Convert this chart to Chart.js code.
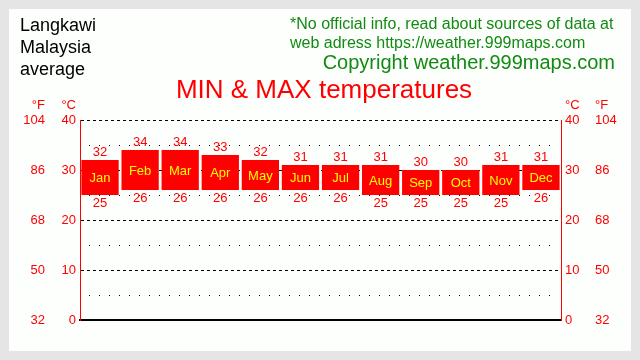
<!DOCTYPE html>
<html>
<head>
<meta charset="utf-8">
<script src="https://cdn.jsdelivr.net/npm/chart.js@4/dist/chart.umd.min.js"></script>
<style>
html,body{margin:0;padding:0;background:#e5e5e5;}
#wrap{width:640px;height:360px;position:relative;}
</style>
</head>
<body>
<div id="wrap"><canvas id="c" width="640" height="360"></canvas></div>
<script>
const categories = ['Jan','Feb','Mar','Apr','May','Jun','Jul','Aug','Sep','Oct','Nov','Dec'];
const minC = [25,26,26,26,26,26,26,25,25,25,25,26];
const maxC = [32,34,34,33,32,31,31,31,30,30,31,31];
const cTicks = [0,10,20,30,40];
const fTicks = [32,50,68,86,104];
const minorC = [5,15,25,35];
const titleText = 'MIN & MAX temperatures';
const placeLines = ['Langkawi','Malaysia','average'];
const noteLines = ['*No official info, read about sources of data at','web adress https://weather.999maps.com'];
const copyrightText = 'Copyright weather.999maps.com';

const FONT = '"Liberation Sans", Arial, sans-serif';
const RED = '#ff0000';
const GREEN = '#138a13';

const bgPlugin = {
  id: 'bg',
  beforeDraw(chart) {
    const ctx = chart.ctx;
    ctx.save();
    ctx.fillStyle = '#e5e5e5';
    ctx.fillRect(0, 0, chart.width, chart.height);
    ctx.fillStyle = '#fdfffd';
    ctx.fillRect(9, 9, 622, 342);
    ctx.textBaseline = 'alphabetic';
    ctx.fillStyle = '#000';
    ctx.font = '18px ' + FONT;
    ctx.textAlign = 'left';
    placeLines.forEach((t, i) => ctx.fillText(t, 20, 31 + i * 22));
    ctx.fillStyle = GREEN;
    ctx.font = '16px ' + FONT;
    noteLines.forEach((t, i) => ctx.fillText(t, 290, 29 + i * 19));
    ctx.font = '20px ' + FONT;
    ctx.textAlign = 'right';
    ctx.fillText(copyrightText, 615, 69);
    ctx.fillStyle = RED;
    ctx.font = '26px ' + FONT;
    ctx.textAlign = 'center';
    ctx.fillText(titleText, 324, 98);
    ctx.restore();
  },
  beforeDatasetsDraw(chart) {
    const ctx = chart.ctx;
    const a = chart.chartArea;
    const y = chart.scales.y;
    ctx.save();
    ctx.strokeStyle = '#000';
    ctx.lineWidth = 1;
    ctx.setLineDash([3, 3]);
    cTicks.forEach(v => {
      if (v === 0) return;
      const py = Math.round(y.getPixelForValue(v)) + 0.5;
      ctx.beginPath();
      ctx.moveTo(a.left + 1, py);
      ctx.lineTo(a.right, py);
      ctx.stroke();
    });
    ctx.setLineDash([1, 9]);
    minorC.forEach(v => {
      const py = Math.round(y.getPixelForValue(v)) + 0.5;
      ctx.beginPath();
      ctx.moveTo(a.left + 9, py);
      ctx.lineTo(a.right - 4, py);
      ctx.stroke();
    });
    ctx.restore();
  },
  afterDatasetsDraw(chart) {
    const ctx = chart.ctx;
    const meta = chart.getDatasetMeta(0);
    ctx.save();
    ctx.font = '13px ' + FONT;
    ctx.textAlign = 'center';
    meta.data.forEach((el, i) => {
      const top = Math.min(el.y, el.base);
      const bot = Math.max(el.y, el.base);
      ctx.fillStyle = RED;
      ctx.textBaseline = 'bottom';
      ctx.fillText(String(maxC[i]), el.x, top - 1);
      ctx.textBaseline = 'top';
      ctx.fillText(String(minC[i]), el.x, bot + 2);
      ctx.fillStyle = '#ffff00';
      ctx.textBaseline = 'middle';
      ctx.fillText(categories[i], el.x, (top + bot) / 2 + 1);
    });
    const s = chart.scales;
    ctx.fillStyle = RED;
    ctx.textBaseline = 'middle';
    const hy = s.y.top - 15;
    ctx.textAlign = 'right';
    ctx.fillText('°F', s.yF.right - 3, hy);
    ctx.fillText('°C', s.y.right - 4, hy);
    ctx.textAlign = 'left';
    ctx.fillText('°C', s.yR.left + 4, hy);
    ctx.fillText('°F', s.yFR.left + 4, hy);
    ctx.restore();
  }
};

function setTicks(arr) {
  return function(scale) { scale.ticks = arr.map(v => ({value: v})); };
}
const tickFont = {family: FONT, size: 13};

new Chart(document.getElementById('c'), {
  type: 'bar',
  data: {
    labels: categories,
    datasets: [{
      data: categories.map((c, i) => [minC[i], maxC[i]]),
      backgroundColor: RED,
      borderWidth: 0,
      barPercentage: 0.93,
      categoryPercentage: 1.0,
      yAxisID: 'y'
    }]
  },
  options: {
    responsive: false,
    animation: false,
    events: [],
    layout: {padding: {left: 0, right: 0, top: 120, bottom: 40}},
    plugins: {legend: {display: false}, title: {display: false}, tooltip: {enabled: false}},
    scales: {
      x: {
        display: true,
        grid: {display: false, drawTicks: false},
        ticks: {display: false},
        border: {display: true, color: '#000', width: 2},
        afterFit(s) { s.height = 0; }
      },
      yF: {
        type: 'linear', position: 'left', weight: 2, min: 32, max: 104,
        afterBuildTicks: setTicks(fTicks),
        grid: {display: false, drawTicks: false},
        border: {display: false},
        ticks: {color: RED, font: tickFont, padding: 3},
        afterFit(s) { s.width = 48; }
      },
      y: {
        type: 'linear', position: 'left', weight: 1, min: 0, max: 40,
        afterBuildTicks: setTicks(cTicks),
        grid: {display: false, drawTicks: false},
        border: {display: true, color: RED, width: 1},
        ticks: {color: RED, font: tickFont, padding: 4},
        afterFit(s) { s.width = 32; }
      },
      yR: {
        type: 'linear', position: 'right', weight: 1, min: 0, max: 40,
        afterBuildTicks: setTicks(cTicks),
        grid: {display: false, drawTicks: false},
        border: {display: true, color: RED, width: 1},
        ticks: {color: RED, font: tickFont, padding: 4},
        afterFit(s) { s.width = 30; }
      },
      yFR: {
        type: 'linear', position: 'right', weight: 2, min: 32, max: 104,
        afterBuildTicks: setTicks(fTicks),
        grid: {display: false, drawTicks: false},
        border: {display: false},
        ticks: {color: RED, font: tickFont, padding: 4},
        afterFit(s) { s.width = 49; }
      }
    }
  },
  plugins: [bgPlugin]
});
</script>
</body>
</html>
